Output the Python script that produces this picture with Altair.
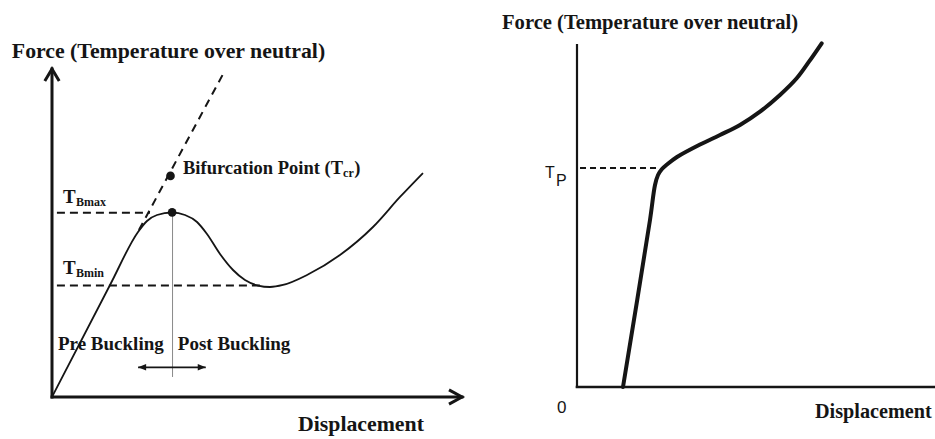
import altair as alt
import pandas as pd

# ---------------- Left panel: buckling curve (units: displacement / force) ----------------
L_curve_disp = [0.0, 1.415, 2.098, 2.317, 2.561, 2.927, 3.244, 3.537, 3.780, 4.098,
                4.415, 4.707, 5.024, 5.317, 5.634, 6.220, 7.024, 7.829, 8.488, 9.049]
L_curve_force = [0.0, 3.415, 5.030, 5.366, 5.549, 5.625, 5.549, 5.335, 4.970, 4.360,
                 3.872, 3.567, 3.399, 3.354, 3.415, 3.720, 4.329, 5.183, 6.098, 6.829]
L_tangent_disp = [2.12, 4.20]
L_tangent_force = [5.09, 9.91]
L_level_names = ["TBmax", "TBmin"]
L_level_force = [5.62, 3.40]
L_level_from = [0.12, 0.12]
L_level_to = [2.39, 5.15]
L_points_disp = [2.89, 2.93]          # bifurcation point, peak
L_points_force = [6.74, 5.63]
L_divider_disp = [2.94]
L_divider_from = [0.61]
L_divider_to = [5.63]
L_arrow_force = [0.905]
L_arrow_from = [2.10]
L_arrow_to = [3.75]
L_axis_max = [10.0]

L_label_text = ["Force (Temperature over neutral)", "T", "Bmax", "T", "Bmin",
                "Bifurcation Point (T", "cr", ")", "Pre Buckling", "Post Buckling",
                "Displacement"]
L_label_disp = [-0.98, 0.27, 0.585, 0.27, 0.585, 3.195, 7.10, 7.37, 0.146, 3.07, 6.0]
L_label_force = [10.34, 5.91, 5.82, 3.75, 3.66, 6.80, 6.71, 6.80, 1.43, 1.43, -1.04]
L_label_role = ["title", "main", "sub", "main", "sub", "note", "sub", "note",
                "note2", "note2", "title"]

# ---------------- Right panel: snap-through / yield curve ----------------
R_curve_disp = [1.285, 2.039, 2.179, 2.263, 2.374, 2.514, 2.793, 3.436, 3.994,
                4.553, 5.112, 5.670, 6.137, 6.480, 6.835]
R_curve_force = [0.0, 4.883, 5.906, 6.199, 6.374, 6.506, 6.725, 7.090, 7.368,
                 7.661, 8.050, 8.538, 9.026, 9.512, 10.050]
R_level_force = [6.404]
R_level_from = [0.084]
R_level_to = [2.235]
R_axis_max = [10.0]

R_serif_text = ["Force (Temperature over neutral)", "Displacement"]
R_serif_disp = [-2.095, 6.648]
R_serif_force = [10.468, -0.906]
R_sans_text = ["T", "P", "0"]
R_sans_disp = [-0.894, -0.587, -0.559]
R_sans_force = [6.11, 5.877, -0.76]
R_sans_role = ["tp", "tp", "zero"]

INK = "#151515"
SERIF = "Liberation Serif"
SANS = "Liberation Sans"

LX = alt.Scale(domain=[0, 10], range=[52, 462], nice=False, zero=False)
LY = alt.Scale(domain=[0, 10], range=[397, 69], nice=False, zero=False)
RX = alt.Scale(domain=[0, 10], range=[577, 935], nice=False, zero=False)
RY = alt.Scale(domain=[0, 10], range=[387, 45], nice=False, zero=False)


def X(field, sc):
    return alt.X(field, type="quantitative", scale=sc, axis=None)


def Y(field, sc):
    return alt.Y(field, type="quantitative", scale=sc, axis=None)


def hrule(df, xs, ys, **kw):
    return alt.Chart(df).mark_rule(**kw).encode(
        x=X("a", xs), x2="b:Q", y=Y("y", ys))


def vrule(df, xs, ys, **kw):
    return alt.Chart(df).mark_rule(**kw).encode(
        x=X("x", xs), y=Y("a", ys), y2="b:Q")


def text_layer(df, xs, ys, font, size, weight):
    return alt.Chart(df).mark_text(
        font=font, fontSize=size, fontWeight=weight, color=INK,
        align="left", baseline="alphabetic").encode(
        x=X("x", xs), y=Y("y", ys), text="t:N")


# ---- left layers
lcurve = alt.Chart(pd.DataFrame({"x": L_curve_disp, "y": L_curve_force})).mark_line(
    color=INK, strokeWidth=1.8, interpolate="monotone").encode(x=X("x", LX), y=Y("y", LY))
ltangent = alt.Chart(pd.DataFrame({"x": L_tangent_disp, "y": L_tangent_force})).mark_line(
    color=INK, strokeWidth=2, strokeDash=[8, 6]).encode(x=X("x", LX), y=Y("y", LY))
llevels = hrule(pd.DataFrame({"n": L_level_names, "y": L_level_force,
                              "a": L_level_from, "b": L_level_to}), LX, LY,
                color=INK, strokeWidth=2, strokeDash=[8, 5])
ldivider = vrule(pd.DataFrame({"x": L_divider_disp, "a": L_divider_from, "b": L_divider_to}),
                 LX, LY, color="#8a8a8a", strokeWidth=1)
lpoints = alt.Chart(pd.DataFrame({"x": L_points_disp, "y": L_points_force})).mark_point(
    filled=True, color=INK, size=75, opacity=1).encode(x=X("x", LX), y=Y("y", LY))
larrow = hrule(pd.DataFrame({"y": L_arrow_force, "a": L_arrow_from, "b": L_arrow_to}),
               LX, LY, color=INK, strokeWidth=1.8)
larrow_l = alt.Chart(pd.DataFrame({"x": L_arrow_from, "y": L_arrow_force})).mark_point(
    shape="M0,0L2,-0.8L2,0.8Z", filled=True, color=INK, size=64, opacity=1).encode(
    x=X("x", LX), y=Y("y", LY))
larrow_r = alt.Chart(pd.DataFrame({"x": L_arrow_to, "y": L_arrow_force})).mark_point(
    shape="M0,0L-2,-0.8L-2,0.8Z", filled=True, color=INK, size=64, opacity=1).encode(
    x=X("x", LX), y=Y("y", LY))
lyaxis = vrule(pd.DataFrame({"x": [0.0], "a": [0.0], "b": L_axis_max}), LX, LY,
               color=INK, strokeWidth=3, strokeCap="square")
lxaxis = hrule(pd.DataFrame({"y": [0.0], "a": [0.0], "b": L_axis_max}), LX, LY,
               color=INK, strokeWidth=3, strokeCap="square")
lyhead = alt.Chart(pd.DataFrame({"x": [0.0], "y": L_axis_max})).mark_point(
    shape="M-0.6,1L0,0L0.6,1", filled=False, color=INK, strokeWidth=3, size=576,
    opacity=1).encode(x=X("x", LX), y=Y("y", LY))
lxhead = alt.Chart(pd.DataFrame({"x": L_axis_max, "y": [0.0]})).mark_point(
    shape="M-1,-0.55L0,0L-1,0.55", filled=False, color=INK, strokeWidth=3, size=676,
    opacity=1).encode(x=X("x", LX), y=Y("y", LY))

ltab = pd.DataFrame({"t": L_label_text, "x": L_label_disp, "y": L_label_force,
                     "role": L_label_role})
role_size = {"title": 21.8, "main": 19, "sub": 12, "note": 18.5, "note2": 19}
ltexts = [text_layer(ltab[ltab.role == r], LX, LY, SERIF, s, "bold")
          for r, s in role_size.items()]

left = alt.layer(lyaxis, lxaxis, lyhead, lxhead, llevels, ldivider, ltangent, lcurve,
                 lpoints, larrow, larrow_l, larrow_r, *ltexts)

# ---- right layers
rcurve = alt.Chart(pd.DataFrame({"x": R_curve_disp, "y": R_curve_force})).mark_line(
    color=INK, strokeWidth=4, interpolate="catmull-rom", strokeCap="round").encode(
    x=X("x", RX), y=Y("y", RY))
rlevel = hrule(pd.DataFrame({"y": R_level_force, "a": R_level_from, "b": R_level_to}),
               RX, RY, color=INK, strokeWidth=2, strokeDash=[6, 4])
ryaxis = vrule(pd.DataFrame({"x": [0.0], "a": [0.0], "b": R_axis_max}), RX, RY,
               color=INK, strokeWidth=2.2, strokeCap="square")
rxaxis = hrule(pd.DataFrame({"y": [0.0], "a": [0.0], "b": R_axis_max}), RX, RY,
               color=INK, strokeWidth=2.6, strokeCap="square")
rserif_t = text_layer(pd.DataFrame({"t": R_serif_text[:1], "x": R_serif_disp[:1],
                                    "y": R_serif_force[:1]}), RX, RY, SERIF, 20.6, "bold")
rserif_d = text_layer(pd.DataFrame({"t": R_serif_text[1:], "x": R_serif_disp[1:],
                                    "y": R_serif_force[1:]}), RX, RY, SERIF, 20.2, "bold")
rtab = pd.DataFrame({"t": R_sans_text, "x": R_sans_disp, "y": R_sans_force, "role": R_sans_role})
rsans_tp = text_layer(rtab[rtab.role == "tp"], RX, RY, SANS, 16, "normal")
rsans_zero = text_layer(rtab[rtab.role == "zero"], RX, RY, SANS, 17, "normal")

right = alt.layer(ryaxis, rxaxis, rlevel, rcurve, rserif_t, rserif_d, rsans_tp, rsans_zero)

chart = alt.layer(left, right).resolve_scale(x="independent", y="independent").properties(
    width=935, height=439, background="white", padding=0,
    autosize=alt.AutoSizeParams(type="none"),
).configure_view(stroke=None)

chart.save("out.html", embed_options={"renderer": "svg", "actions": False})
